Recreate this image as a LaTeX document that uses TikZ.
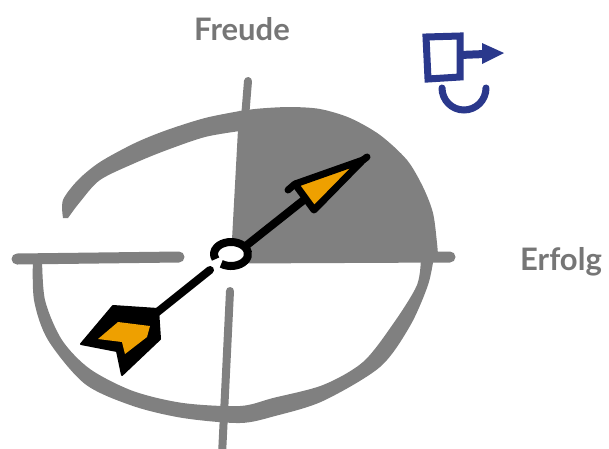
\documentclass[tikz,border=0pt]{standalone}
\usepackage{fontspec}
\newfontfamily\labelfont{Lato}
\usetikzlibrary{calc}
\definecolor{inkgray}{RGB}{128,128,128}
\definecolor{textgray}{RGB}{118,118,118}
\definecolor{amber}{RGB}{238,160,0}
\definecolor{iconblue}{RGB}{42,56,140}
\begin{document}
\begin{tikzpicture}[x=1pt,y=-1pt,
  band/.style={fill=inkgray},
  axisline/.style={draw=inkgray, line cap=round},
  shaft/.style={draw=black, line width=8pt, line cap=round},
  headline/.style={draw=black, line width=7pt, line join=round, line cap=round},
  axislabel/.style={font=\labelfont\bfseries\fontsize{31}{31}\selectfont, text=textgray, inner sep=0pt},
  iconline/.style={draw=iconblue, line width=7pt}]
\useasboundingbox (0,0) rectangle (609,448);

% named points of the dial
\coordinate (hub) at (231,254);
\coordinate (tip) at (363,160);
\coordinate (headL) at (295,184);
\coordinate (headR) at (314,210);
\coordinate (shaftA) at (247,245);
\coordinate (shaftB) at (305,199);
\coordinate (tailA) at (210,270);
\coordinate (tailB) at (150,318);

% lower sweep of the dial rim
\fill[band] plot[smooth] coordinates {(33,256) (34,300) (48,340) (85,384) (133,406) (183,418) (240,423) (275,416) (323,401) (380,367) (410,326) (428,285) (434,256)}
  -- plot[smooth] coordinates {(421,256) (417,285) (393,324) (363,362) (323,385) (273,398) (240,406) (183,403) (133,391) (90,369) (62,340) (45,300) (42,256)}
  -- cycle;

% upper-left sweep of the rim
\fill[band] plot[smooth] coordinates {(63,218) (63,200) (78,180) (100,162) (135,143) (167,130) (205,118) (240,111)}
  -- plot[smooth] coordinates {(240,131) (205,137) (167,150) (135,163) (100,180) (80,202) (68,218)}
  -- cycle;

% shaded upper-right quadrant
\fill[band] (231,258) -- (239,111)
  -- plot[smooth] coordinates {(239,111) (260,108.5) (290,107) (320,109) (350,118) (380,135) (407,160) (423,187) (433,213) (437,243) (438,256)}
  -- (438,258) -- cycle;

% axes
\draw[axisline, line width=8pt] (248,81) -- (245,118);
\draw[axisline, line width=8pt] (230,291) -- (222,455);
\draw[axisline, line width=11pt] (17,259) -- (179,257);
\draw[axisline, line width=11pt] (235,258) -- (450,257);

% pointer shafts
\draw[shaft] (tailA) -- (tailB);
\draw[shaft] (shaftA) -- (shaftB);

% hub ring with a small opening
\fill[white] (hub) ellipse [x radius=17pt, y radius=12pt];
\draw[black, line width=8pt] ($(hub)+(235:17pt and 12pt)$) arc[start angle=235, end angle=565, x radius=17pt, y radius=12pt];

% arrow head
\filldraw[headline, fill=amber] (headL) -- (tip) -- (headR) -- cycle;
\draw[headline] (headL) -- (288,190);
\draw[headline] (tip) -- (367,157);

% fletching
\filldraw[black, line width=2pt, line join=round] (81,344) -- (113,306) -- (158,309) -- (160,339) -- (122,375) -- (117,351) -- cycle;
\fill[amber] (98,339) -- (118,322) -- (150,326) -- (147,337) -- (125,354) -- (122,342) -- cycle;

% axis labels
\node[axislabel, anchor=base] (freude) at (242,40) {Freude};
\node[axislabel, anchor=base west] (erfolg) at (520,270.7) {Erfolg};

% blue icon: box with outgoing arrow and smile
\draw[iconline, line join=miter] (426,37) -- (460,36) -- (460,77) -- (428,79) -- cycle;
\draw[iconline, line width=8pt] (460,55) -- (485,54);
\fill[iconblue] (482,43) -- (504,53) -- (482,64) -- cycle;
\draw[iconline, line cap=round] (442,88) arc[start angle=180, end angle=360, radius=22pt];
\end{tikzpicture}
\end{document}
